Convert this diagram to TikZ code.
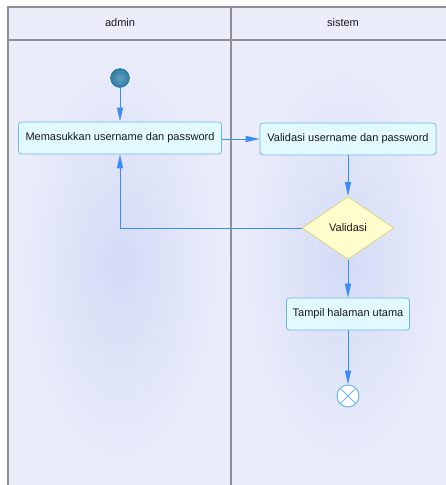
\documentclass[tikz,border=0pt]{standalone}
\usepackage{fontspec}
\setmainfont{Liberation Sans}
\usetikzlibrary{shapes.geometric,arrows.meta}
\definecolor{lanebg}{HTML}{ECEDFB}
\definecolor{laneblob}{HTML}{D3DBF5}
\definecolor{laneline}{HTML}{8E8E96}
\definecolor{boxfill}{HTML}{E2FAFF}
\definecolor{boxline}{HTML}{6DB9E2}
\definecolor{decfill}{HTML}{FFFDCB}
\definecolor{decline}{HTML}{D6D28C}
\definecolor{flow}{HTML}{3A8CF6}
\definecolor{startfill}{HTML}{2F7EA5}
\tikzset{
    every node/.style={font=\fontsize{11}{13}\selectfont, text=black!90}
}
\tikzset{
    aksi/.style={rectangle, rounded corners=3pt, draw=boxline, line width=.8pt,
    	fill=boxfill, minimum height=32pt, inner sep=0pt},
    cabang/.style={diamond, draw=decline, line width=.8pt, fill=decfill,
    	minimum width=92pt, minimum height=63pt, aspect=1.46, inner sep=0pt},
    mulai/.style={circle, inner color=startfill!75!white, outer color=startfill,
    	draw=startfill!85!black, minimum size=19pt, inner sep=0pt},
    selesai/.style={circle, draw=boxline, fill=white, line width=1pt,
    	minimum size=22pt, inner sep=0pt},
    alir/.style={draw=flow, line width=1pt,
    	-{Triangle[length=14pt,width=6pt]}}
}

\begin{document}
\begin{tikzpicture}[x=1pt, y=-1pt]
  \useasboundingbox (0,0) rectangle (446,485);
  \clip (0,0) rectangle (446,485);

  % swimlanes
  \fill[lanebg] (8,7) rectangle (456,490);
  \shade[inner color=laneblob, outer color=lanebg] (12,44) rectangle (228,484);
  \shade[inner color=laneblob, outer color=lanebg] (235,44) rectangle (452,484);
  \draw[laneline, line width=1.1pt] (8,490) -- (8,7) -- (456,7);
  \draw[laneline, line width=1.1pt] (8,40) -- (456,40);
  \draw[laneline, line width=1.1pt] (231,7) -- (231,490);
  \node (admin) at (120,23) {admin};
  \node (sistem) at (343,23) {sistem};

  % activities
  \node (start) [mulai] at (120,78) {};
  \node (masuk) [aksi, minimum width=203pt] at (120,138) {Memasukkan username dan password};
  \node (valid) [aksi, minimum width=176pt] at (348,139) {Validasi username dan password};
  \node (cek) [cabang] at (348,228) {Validasi};
  \node (tampil) [aksi, minimum width=123pt] at (348,314) {Tampil halaman utama};
  \node (akhir) [selesai] at (348,396) {};
  \draw[boxline, line width=1pt] (akhir.45) -- (akhir.225);
  \draw[boxline, line width=1pt] (akhir.135) -- (akhir.315);

  \draw[alir] (start) -- (masuk);
  \draw[alir] (masuk.east |- valid) -- (valid);
  \draw[alir] (valid) -- (cek);
  \draw[alir] (cek) -| (masuk);
  \draw[alir] (cek) -- (tampil);
  \draw[alir] (tampil) -- (akhir);
\end{tikzpicture}
\end{document}
